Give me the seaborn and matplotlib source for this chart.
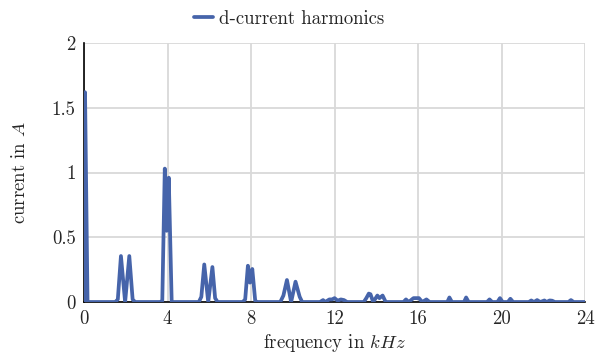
import matplotlib
matplotlib.use("Agg")
import matplotlib.pyplot as plt
import seaborn as sns
import pandas as pd

# frequency (kHz) and d-current amplitude (A)
freq_khz = [
    0.00, 0.05, 0.17,
    1.50, 1.62, 1.77, 1.97, 2.17, 2.33, 2.45,
    3.65, 3.75, 3.87, 3.96, 4.06, 4.20,
    5.50, 5.62, 5.76, 5.95, 6.15, 6.28, 6.40,
    7.60, 7.72, 7.85, 7.95, 8.06, 8.20, 8.30,
    9.40, 9.55, 9.72, 9.92, 10.13, 10.33, 10.45,
    11.30, 11.45, 11.55, 11.75, 11.88, 12.00, 12.15, 12.30, 12.45, 12.60,
    13.40, 13.52, 13.64, 13.72, 13.85, 14.05, 14.15, 14.30, 14.45,
    15.30, 15.42, 15.55, 15.78, 15.88, 16.04, 16.20, 16.40, 16.55,
    17.40, 17.50, 17.62, 18.20, 18.30, 18.42,
    19.30, 19.42, 19.55, 19.80, 19.92, 20.05, 20.30, 20.42, 20.55,
    21.30, 21.42, 21.55, 21.70, 21.85, 22.05, 22.15, 22.30, 22.42, 22.55,
    23.20, 23.32, 23.45, 24.00,
]
current_a = [
    0.00, 1.62, 0.00,
    0.00, 0.02, 0.355, 0.00, 0.355, 0.02, 0.00,
    0.00, 0.01, 1.03, 0.55, 0.96, 0.00,
    0.00, 0.04, 0.29, 0.00, 0.27, 0.03, 0.00,
    0.00, 0.02, 0.28, 0.15, 0.255, 0.01, 0.00,
    0.00, 0.05, 0.17, 0.00, 0.157, 0.04, 0.00,
    0.00, 0.015, 0.00, 0.02, 0.02, 0.03, 0.01, 0.02, 0.015, 0.00,
    0.00, 0.03, 0.065, 0.06, 0.00, 0.05, 0.03, 0.05, 0.00,
    0.00, 0.02, 0.00, 0.03, 0.03, 0.03, 0.00, 0.02, 0.00,
    0.00, 0.035, 0.00, 0.00, 0.035, 0.00,
    0.00, 0.02, 0.00, 0.00, 0.03, 0.00, 0.00, 0.025, 0.00,
    0.00, 0.012, 0.00, 0.015, 0.00, 0.012, 0.00, 0.012, 0.01, 0.00,
    0.00, 0.015, 0.00, 0.00,
]
series_label = "d-current harmonics"
x_ticks = [0, 4, 8, 12, 16, 20, 24]
y_ticks = [0, 0.5, 1, 1.5, 2]
y_tick_labels = ["0", "0.5", "1", "1.5", "2"]

df = pd.DataFrame({"freq": freq_khz, "current": current_a, "series": series_label})

sns.set_theme(style="white")
plt.rcParams["font.family"] = ["cmr10", "DejaVu Serif"]
plt.rcParams["mathtext.fontset"] = "cm"
plt.rcParams["axes.formatter.use_mathtext"] = True

fig = plt.figure(figsize=(6.02, 3.63), dpi=100)
ax = fig.add_axes([0.1395, 0.168, 0.8325, 0.7135])

sns.lineplot(data=df, x="freq", y="current", hue="series", palette=["#4664AA"],
             linewidth=2.7, ax=ax, legend=True, zorder=3)

ax.set_xlim(0, 24)
ax.set_ylim(0, 2)
ax.set_xticks(x_ticks)
ax.set_xticklabels([str(t) for t in x_ticks])
ax.set_yticks(y_ticks)
ax.set_yticklabels(y_tick_labels)
ax.grid(True, color="#d9d9d9", linewidth=1.3, zorder=0)
ax.set_axisbelow(True)
for s in ["top", "right"]:
    ax.spines[s].set_visible(False)
for s in ["left", "bottom"]:
    ax.spines[s].set_color("black")
    ax.spines[s].set_linewidth(1.2)
    ax.spines[s].set_zorder(2)
ax.tick_params(axis="both", direction="in", length=3, width=1.2, color="black",
               labelsize=13.5, pad=6)
ax.set_xlabel("frequency in $kHz$", fontsize=13.5, labelpad=3)
ax.set_ylabel("current in $A$", fontsize=13.5, labelpad=16)

ax.legend_.remove()
handles, labels = ax.get_legend_handles_labels()
fig.legend(handles, labels, loc="upper center", bbox_to_anchor=(0.48, 1.02),
           frameon=False, fontsize=13.5, handlelength=1.0, handletextpad=0.3)

fig.savefig("out.png", dpi=100)
